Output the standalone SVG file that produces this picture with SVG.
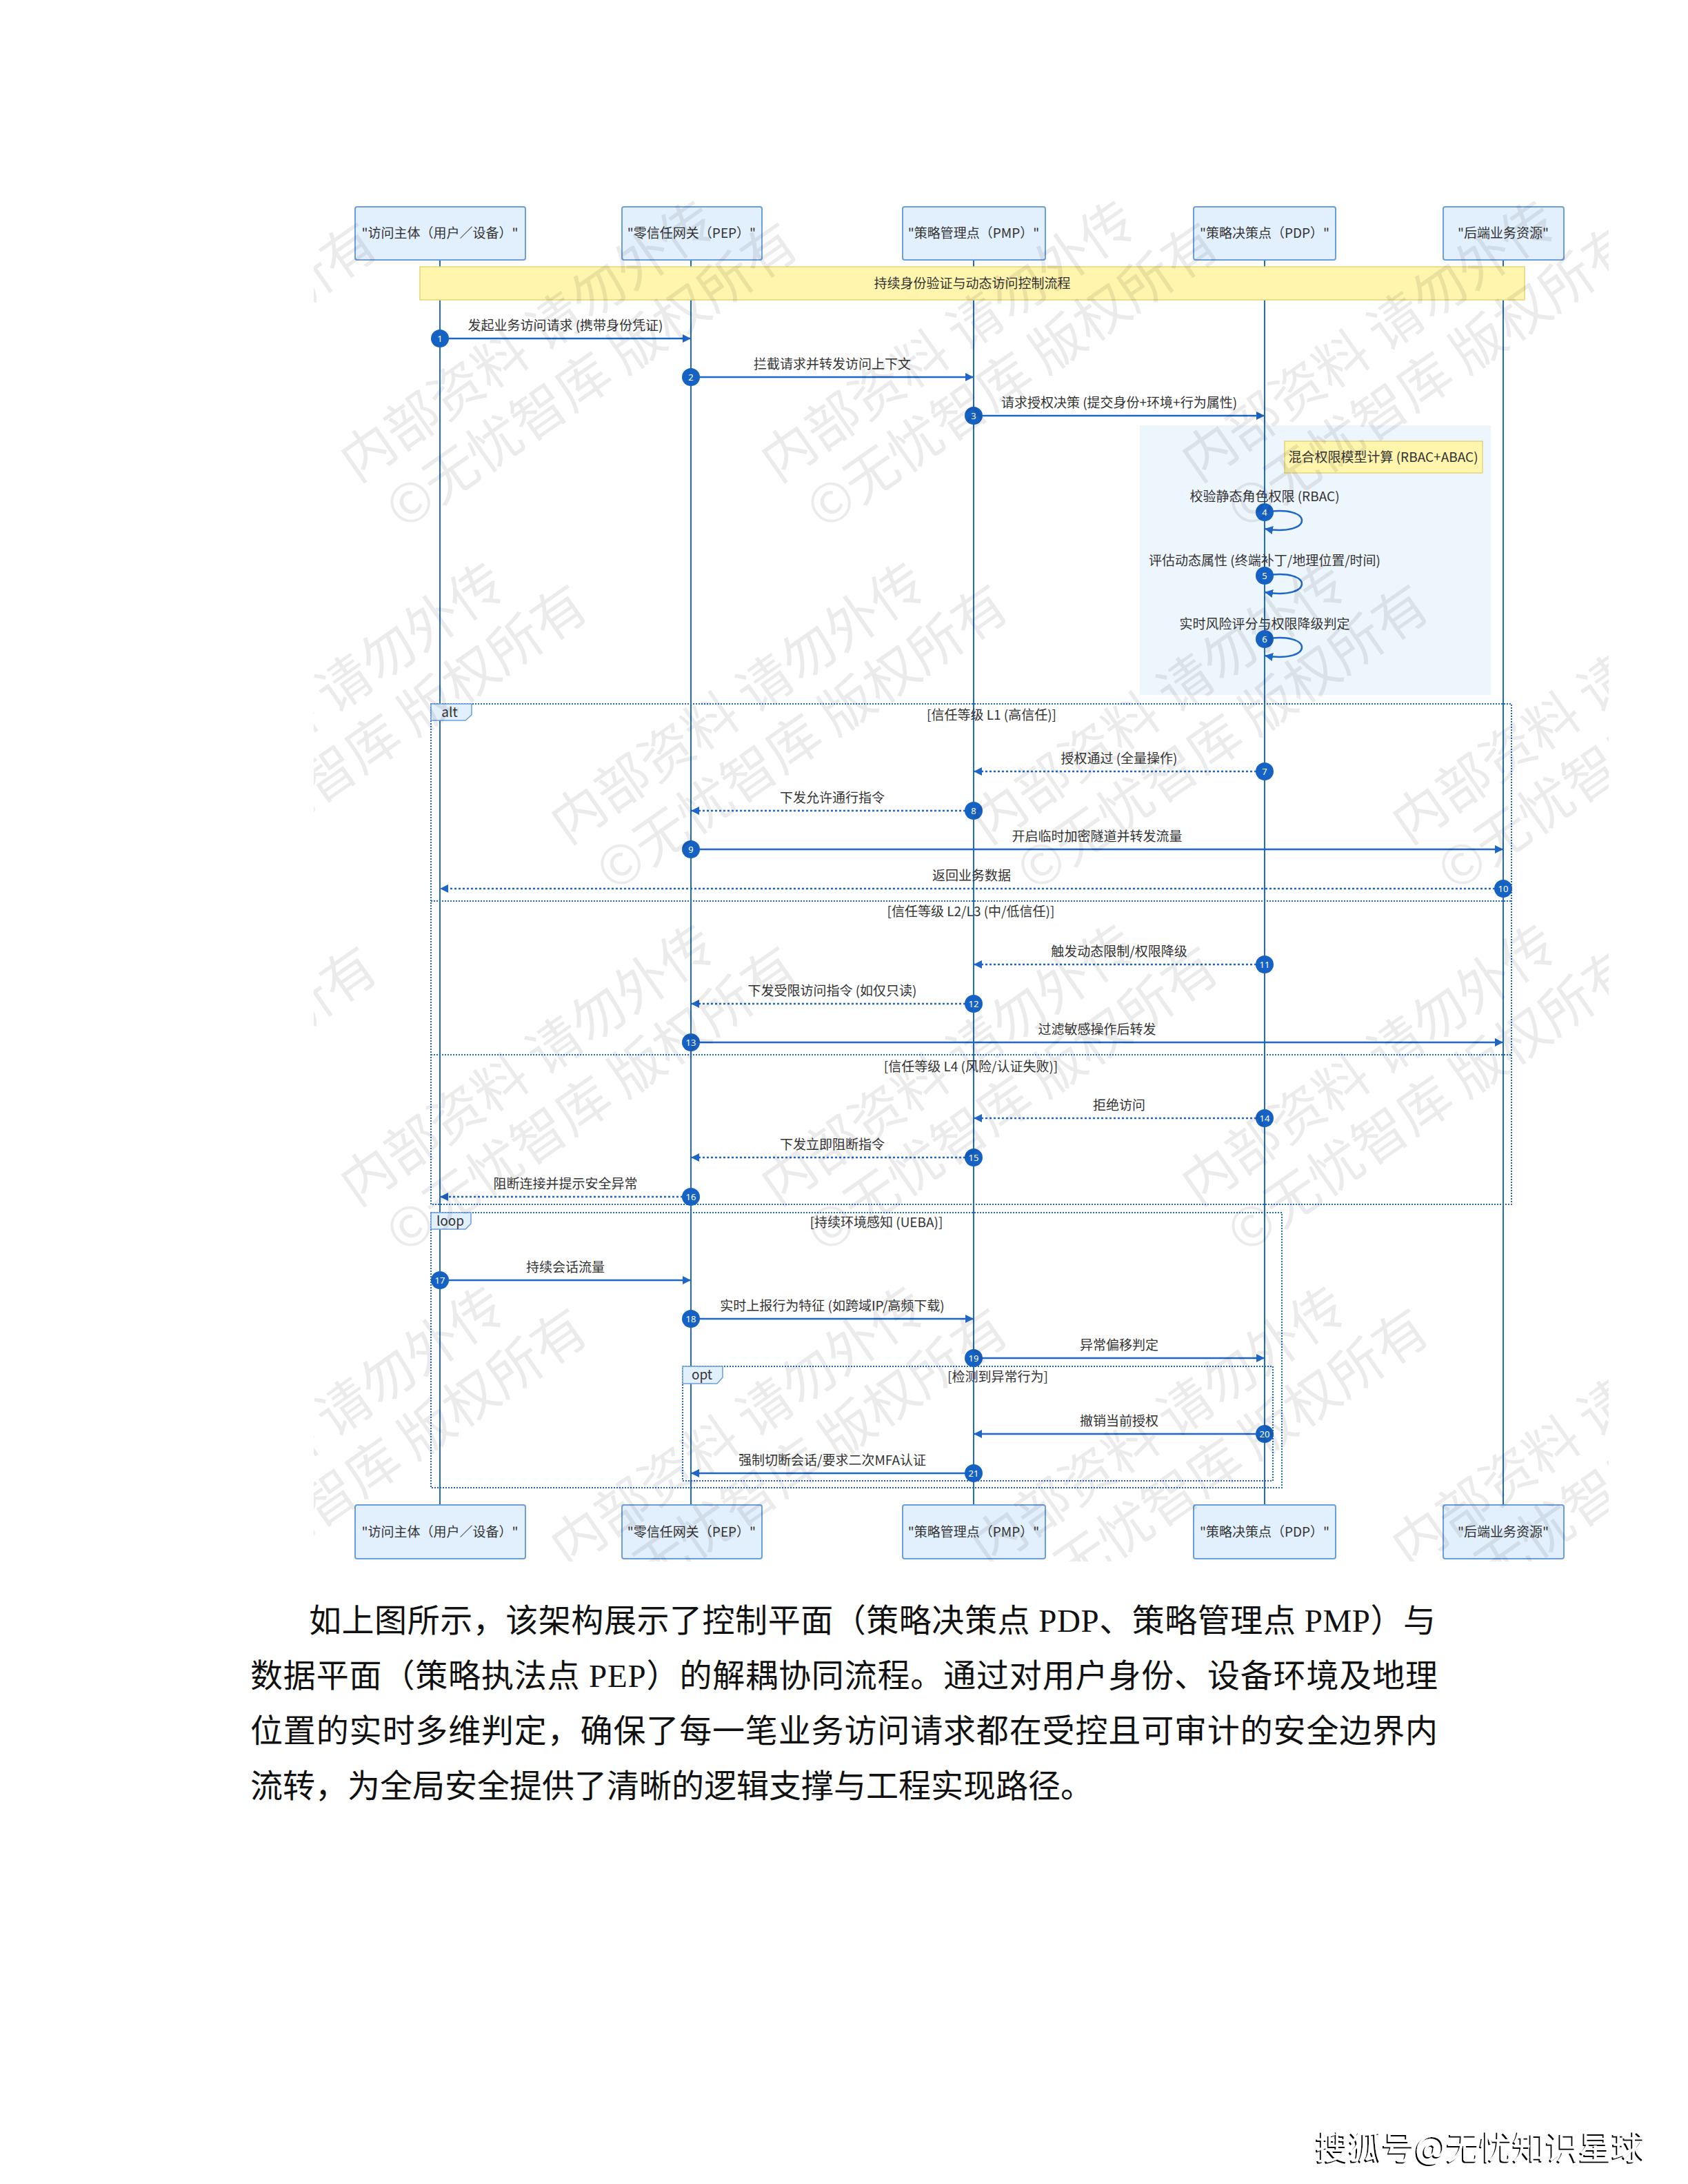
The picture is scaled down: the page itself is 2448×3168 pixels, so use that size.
<svg xmlns="http://www.w3.org/2000/svg" width="2448" height="3168" viewBox="0 0 2448 3168">
<defs>
<style>
.box{fill:#e2effc;stroke:#6c9ed9;stroke-width:2}
.t{font-family:"Noto Sans CJK SC","Noto Sans",sans-serif;font-size:19px;fill:#333;text-anchor:middle}
.life{stroke:#2269c9;stroke-width:2}
.msg{stroke:#1f66c6;stroke-width:2.5;fill:none}
.dash{stroke-dasharray:3 3}
.nc{fill:#1662c4}
.nt{font-family:"Noto Sans","Noto Sans CJK SC",sans-serif;font-size:13px;fill:#fff;text-anchor:middle}
.frame{fill:none;stroke:#1f66c6;stroke-width:2;stroke-dasharray:2 2}
.tab{fill:#e2effc;stroke:#6c9ed9;stroke-width:1.5}
.note{fill:#fff5ad;stroke:#e5d37a;stroke-width:1.5}
.wm{font-family:"Noto Sans CJK SC",sans-serif;font-size:78px;fill:#000;fill-opacity:0.08}
.para{font-family:"Liberation Serif","Noto Sans CJK SC",serif;font-size:47px;fill:#111}
.sig{font-family:"Noto Sans CJK SC",sans-serif;font-size:48px;fill:#fff}
</style>
<marker id="ah" viewBox="0 0 12 12" refX="12" refY="6" markerWidth="12" markerHeight="12" markerUnits="userSpaceOnUse" orient="auto"><path d="M0,0 L12,6 L0,12 z" fill="#1f66c6"/></marker>
<clipPath id="wmclip"><rect x="455" y="280" width="1878" height="1985"/></clipPath>
<g id="wmt" transform="rotate(-35)"><text class="wm">内部资料 请勿外传</text><text class="wm" x="15" y="95">©无忧智库 版权所有</text></g>
<filter id="shadow" x="-5%" y="-20%" width="110%" height="140%"><feDropShadow dx="-2" dy="2" stdDeviation="0.6" flood-color="#000" flood-opacity="1"/></filter>
</defs>
<rect width="2448" height="3168" fill="#fff"/>

<rect x="1653" y="617" width="509" height="391" fill="#edf5fd"/>

<g id="lifelines">
<line class="life" x1="638" y1="377" x2="638" y2="2183"/>
<line class="life" x1="1002" y1="377" x2="1002" y2="2183"/>
<line class="life" x1="1412" y1="377" x2="1412" y2="2183"/>
<line class="life" x1="1834" y1="377" x2="1834" y2="2183"/>
<line class="life" x1="2180" y1="377" x2="2180" y2="2183"/>
</g>

<g id="banner">
<rect class="note" x="609" y="387" width="1602" height="48"/>
<text class="t" x="1410" y="418">持续身份验证与动态访问控制流程</text>
</g>

<g id="actor-user">
<rect class="box" x="515" y="300" width="247" height="77" rx="3"/>
<text class="t" x="638" y="345">"访问主体（用户／设备）"</text>
<rect class="box" x="515" y="2183" width="247" height="78" rx="3"/>
<text class="t" x="638" y="2229">"访问主体（用户／设备）"</text>
</g>
<g id="actor-pep">
<rect class="box" x="902" y="300" width="203" height="77" rx="3"/>
<text class="t" x="1003" y="345">"零信任网关（PEP）"</text>
<rect class="box" x="902" y="2183" width="203" height="78" rx="3"/>
<text class="t" x="1003" y="2229">"零信任网关（PEP）"</text>
</g>
<g id="actor-pmp">
<rect class="box" x="1309" y="300" width="207" height="77" rx="3"/>
<text class="t" x="1412" y="345">"策略管理点（PMP）"</text>
<rect class="box" x="1309" y="2183" width="207" height="78" rx="3"/>
<text class="t" x="1412" y="2229">"策略管理点（PMP）"</text>
</g>
<g id="actor-pdp">
<rect class="box" x="1731" y="300" width="206" height="77" rx="3"/>
<text class="t" x="1834" y="345">"策略决策点（PDP）"</text>
<rect class="box" x="1731" y="2183" width="206" height="78" rx="3"/>
<text class="t" x="1834" y="2229">"策略决策点（PDP）"</text>
</g>
<g id="actor-res">
<rect class="box" x="2093" y="300" width="175" height="77" rx="3"/>
<text class="t" x="2180" y="345">"后端业务资源"</text>
<rect class="box" x="2093" y="2183" width="175" height="78" rx="3"/>
<text class="t" x="2180" y="2229">"后端业务资源"</text>
</g>

<g id="note-hybrid">
<rect class="note" x="1863" y="640" width="287" height="46"/>
<text class="t" x="2006" y="670">混合权限模型计算 (RBAC+ABAC)</text>
</g>

<g id="frames">
<rect class="frame" x="625" y="1021" width="1567" height="726"/>
<line class="frame" x1="625" y1="1307" x2="2192" y2="1307"/>
<line class="frame" x1="625" y1="1530" x2="2192" y2="1530"/>
<path class="tab" d="M625,1021 H684 V1037 L675,1045 H625 Z"/>
<text class="t" x="652" y="1040">alt</text>
<text class="t" x="1438" y="1044">[信任等级 L1 (高信任)]</text>
<text class="t" x="1408" y="1329">[信任等级 L2/L3 (中/低信任)]</text>
<text class="t" x="1408" y="1554">[信任等级 L4 (风险/认证失败)]</text>

<rect class="frame" x="625" y="1759" width="1234" height="399"/>
<path class="tab" d="M625,1759 H683 V1775 L675,1783 H625 Z"/>
<text class="t" x="653" y="1778">loop</text>
<text class="t" x="1271" y="1780">[持续环境感知 (UEBA)]</text>

<rect class="frame" x="990" y="1982" width="856" height="166"/>
<path class="tab" d="M990,1982 H1048 V1998 L1040,2007 H990 Z"/>
<text class="t" x="1018" y="2001">opt</text>
<text class="t" x="1447" y="2004">[检测到异常行为]</text>
</g>

<g id="connectors">
<line class="msg" x1="638" y1="491" x2="1002" y2="491" marker-end="url(#ah)"/>
<line class="msg" x1="1002" y1="547" x2="1412" y2="547" marker-end="url(#ah)"/>
<line class="msg" x1="1412" y1="603" x2="1834" y2="603" marker-end="url(#ah)"/>
<path class="msg" d="M1834,743 C1906,731 1906,779 1834,767" marker-end="url(#ah)"/>
<path class="msg" d="M1834,835 C1906,823 1906,871 1834,859" marker-end="url(#ah)"/>
<path class="msg" d="M1834,927 C1906,915 1906,963 1834,951" marker-end="url(#ah)"/>
<line class="msg dash" x1="1834" y1="1119" x2="1412" y2="1119" marker-end="url(#ah)"/>
<line class="msg dash" x1="1412" y1="1176" x2="1002" y2="1176" marker-end="url(#ah)"/>
<line class="msg" x1="1002" y1="1232" x2="2180" y2="1232" marker-end="url(#ah)"/>
<line class="msg dash" x1="2180" y1="1289" x2="638" y2="1289" marker-end="url(#ah)"/>
<line class="msg dash" x1="1834" y1="1399" x2="1412" y2="1399" marker-end="url(#ah)"/>
<line class="msg dash" x1="1412" y1="1456" x2="1002" y2="1456" marker-end="url(#ah)"/>
<line class="msg" x1="1002" y1="1512" x2="2180" y2="1512" marker-end="url(#ah)"/>
<line class="msg dash" x1="1834" y1="1622" x2="1412" y2="1622" marker-end="url(#ah)"/>
<line class="msg dash" x1="1412" y1="1679" x2="1002" y2="1679" marker-end="url(#ah)"/>
<line class="msg dash" x1="1002" y1="1736" x2="638" y2="1736" marker-end="url(#ah)"/>
<line class="msg" x1="638" y1="1857" x2="1002" y2="1857" marker-end="url(#ah)"/>
<line class="msg" x1="1002" y1="1913" x2="1412" y2="1913" marker-end="url(#ah)"/>
<line class="msg" x1="1412" y1="1970" x2="1834" y2="1970" marker-end="url(#ah)"/>
<line class="msg" x1="1834" y1="2080" x2="1412" y2="2080" marker-end="url(#ah)"/>
<line class="msg" x1="1412" y1="2137" x2="1002" y2="2137" marker-end="url(#ah)"/>
</g>

<g id="labels">
<text class="t" x="820" y="479">发起业务访问请求 (携带身份凭证)</text>
<text class="t" x="1207" y="535">拦截请求并转发访问上下文</text>
<text class="t" x="1623" y="591">请求授权决策 (提交身份+环境+行为属性)</text>
<text class="t" x="1834" y="727">校验静态角色权限 (RBAC)</text>
<text class="t" x="1834" y="820">评估动态属性 (终端补丁/地理位置/时间)</text>
<text class="t" x="1834" y="912">实时风险评分与权限降级判定</text>
<text class="t" x="1623" y="1107">授权通过 (全量操作)</text>
<text class="t" x="1207" y="1164">下发允许通行指令</text>
<text class="t" x="1591" y="1220">开启临时加密隧道并转发流量</text>
<text class="t" x="1409" y="1277">返回业务数据</text>
<text class="t" x="1623" y="1387">触发动态限制/权限降级</text>
<text class="t" x="1207" y="1444">下发受限访问指令 (如仅只读)</text>
<text class="t" x="1591" y="1500">过滤敏感操作后转发</text>
<text class="t" x="1623" y="1610">拒绝访问</text>
<text class="t" x="1207" y="1667">下发立即阻断指令</text>
<text class="t" x="820" y="1724">阻断连接并提示安全异常</text>
<text class="t" x="820" y="1845">持续会话流量</text>
<text class="t" x="1207" y="1901">实时上报行为特征 (如跨域IP/高频下载)</text>
<text class="t" x="1623" y="1958">异常偏移判定</text>
<text class="t" x="1623" y="2068">撤销当前授权</text>
<text class="t" x="1207" y="2125">强制切断会话/要求二次MFA认证</text>
</g>

<g id="numbers">
<circle class="nc" cx="638" cy="491" r="13"/><text class="nt" x="638" y="496">1</text>
<circle class="nc" cx="1002" cy="547" r="13"/><text class="nt" x="1002" y="552">2</text>
<circle class="nc" cx="1412" cy="603" r="13"/><text class="nt" x="1412" y="608">3</text>
<circle class="nc" cx="1834" cy="743" r="13"/><text class="nt" x="1834" y="748">4</text>
<circle class="nc" cx="1834" cy="835" r="13"/><text class="nt" x="1834" y="840">5</text>
<circle class="nc" cx="1834" cy="927" r="13"/><text class="nt" x="1834" y="932">6</text>
<circle class="nc" cx="1834" cy="1119" r="13"/><text class="nt" x="1834" y="1124">7</text>
<circle class="nc" cx="1412" cy="1176" r="13"/><text class="nt" x="1412" y="1181">8</text>
<circle class="nc" cx="1002" cy="1232" r="13"/><text class="nt" x="1002" y="1237">9</text>
<circle class="nc" cx="2180" cy="1289" r="13"/><text class="nt" x="2180" y="1294">10</text>
<circle class="nc" cx="1834" cy="1399" r="13"/><text class="nt" x="1834" y="1404">11</text>
<circle class="nc" cx="1412" cy="1456" r="13"/><text class="nt" x="1412" y="1461">12</text>
<circle class="nc" cx="1002" cy="1512" r="13"/><text class="nt" x="1002" y="1517">13</text>
<circle class="nc" cx="1834" cy="1622" r="13"/><text class="nt" x="1834" y="1627">14</text>
<circle class="nc" cx="1412" cy="1679" r="13"/><text class="nt" x="1412" y="1684">15</text>
<circle class="nc" cx="1002" cy="1736" r="13"/><text class="nt" x="1002" y="1741">16</text>
<circle class="nc" cx="638" cy="1857" r="13"/><text class="nt" x="638" y="1862">17</text>
<circle class="nc" cx="1002" cy="1913" r="13"/><text class="nt" x="1002" y="1918">18</text>
<circle class="nc" cx="1412" cy="1970" r="13"/><text class="nt" x="1412" y="1975">19</text>
<circle class="nc" cx="1834" cy="2080" r="13"/><text class="nt" x="1834" y="2085">20</text>
<circle class="nc" cx="1412" cy="2137" r="13"/><text class="nt" x="1412" y="2142">21</text>
</g>

<g id="watermark" clip-path="url(#wmclip)">
<use href="#wmt" x="213" y="176"/><use href="#wmt" x="823" y="176"/><use href="#wmt" x="1433" y="176"/><use href="#wmt" x="2043" y="176"/>
<use href="#wmt" x="-92" y="701"/><use href="#wmt" x="518" y="701"/><use href="#wmt" x="1128" y="701"/><use href="#wmt" x="1738" y="701"/>
<use href="#wmt" x="213" y="1226"/><use href="#wmt" x="823" y="1226"/><use href="#wmt" x="1433" y="1226"/><use href="#wmt" x="2043" y="1226"/>
<use href="#wmt" x="-92" y="1751"/><use href="#wmt" x="518" y="1751"/><use href="#wmt" x="1128" y="1751"/><use href="#wmt" x="1738" y="1751"/>
<use href="#wmt" x="213" y="2276"/><use href="#wmt" x="823" y="2276"/><use href="#wmt" x="1433" y="2276"/><use href="#wmt" x="2043" y="2276"/>
</g>

<g id="paragraph">
<text class="para" x="448" y="2367" textLength="1634" lengthAdjust="spacing">如上图所示，该架构展示了控制平面（策略决策点 PDP、策略管理点 PMP）与</text>
<text class="para" x="363" y="2447" textLength="1722" lengthAdjust="spacing">数据平面（策略执法点 PEP）的解耦协同流程。通过对用户身份、设备环境及地理</text>
<text class="para" x="363" y="2527" textLength="1722" lengthAdjust="spacing">位置的实时多维判定，确保了每一笔业务访问请求都在受控且可审计的安全边界内</text>
<text class="para" x="363" y="2607">流转，为全局安全提供了清晰的逻辑支撑与工程实现路径。</text>
</g>

<text class="sig" x="1908" y="3132" filter="url(#shadow)">搜狐号@无忧知识星球</text>
</svg>
